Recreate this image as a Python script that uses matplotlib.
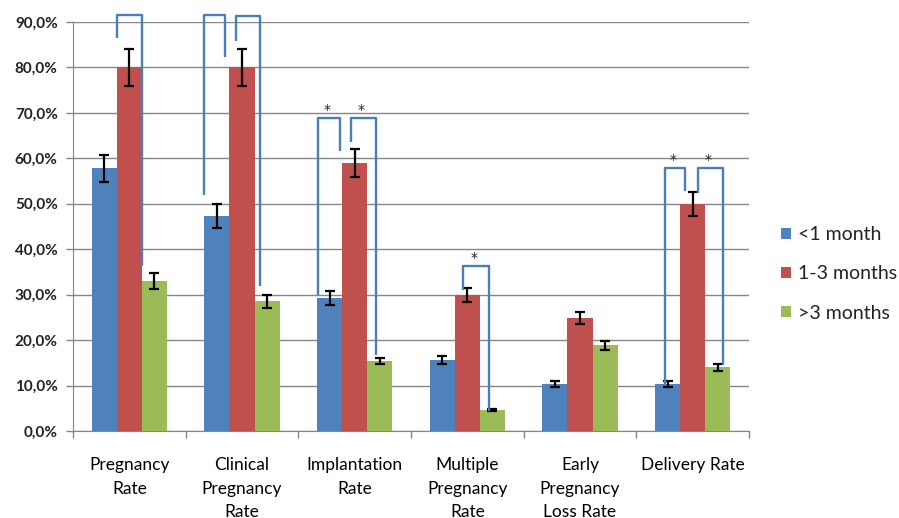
import matplotlib
matplotlib.use("Agg")
import matplotlib.pyplot as plt
from matplotlib.ticker import FuncFormatter, FixedLocator
import numpy as np

categories = ["Pregnancy\nRate", "Clinical\nPregnancy\nRate", "Implantation\nRate",
              "Multiple\nPregnancy\nRate", "Early\nPregnancy\nLoss Rate", "Delivery Rate"]
series_names = ["<1 month", "1-3 months", ">3 months"]
lt1 = [57.8, 47.3, 29.2, 15.6, 10.3, 10.3]
m13 = [80.0, 80.0, 58.9, 29.9, 24.8, 50.0]
gt3 = [33.0, 28.5, 15.4, 4.6, 18.9, 14.0]
lt1_err = [3.0, 2.6, 1.5, 0.9, 0.6, 0.6]
m13_err = [4.1, 4.1, 3.1, 1.5, 1.3, 2.6]
gt3_err = [1.7, 1.4, 0.75, 0.2, 1.0, 0.75]

# significance brackets: (category, left offset, right offset, left end, top, right end, star)
brackets = [
    (0, -0.106, 0.113, 86.4, 91.6, 36.4, False),
    (1, -0.336, -0.149, 51.9, 91.5, 82.2, False),
    (1, -0.057, 0.162, 85.8, 91.3, 31.9, False),
    (2, -0.325, -0.133, 29.9, 68.8, 61.6, True),
    (2, -0.035, 0.191, 63.7, 68.8, 16.7, True),
    (3, -0.036, 0.189, 31.0, 36.2, 4.5, True),
    (5, -0.247, -0.069, 10.3, 57.9, 52.8, True),
    (5, 0.049, 0.272, 52.4, 57.8, 14.5, True),
]

colors = ["#4F81BD", "#C0504D", "#9BBB59"]
bracket_color = "#4A7EBB"
grid_color = "#868686"

plt.rcParams['font.family'] = ['Lato', 'DejaVu Sans']

fig = plt.figure(figsize=(8.99, 5.18), dpi=100)
ax = fig.add_axes([73/899, 1-431/518, (749-73)/899, (431-22)/518])

x = np.arange(len(categories))
w = 0.222
vals = [lt1, m13, gt3]
errs = [lt1_err, m13_err, gt3_err]
for k in range(3):
    ax.bar(x + (k-1)*w, vals[k], width=w, color=colors[k], label=series_names[k],
           zorder=3, yerr=errs[k], error_kw=dict(ecolor='black', elinewidth=1.6,
                                                  capsize=3.6, capthick=1.6, zorder=4))

for (c, lo, ro, ly, ty, ry, star) in brackets:
    xl, xr = c + lo, c + ro
    ax.plot([xl, xl, xr, xr], [ly, ty, ty, ry], color=bracket_color, lw=1.7,
            zorder=5, clip_on=False, solid_joinstyle='round', solid_capstyle='butt')
    if star:
        ax.text((xl+xr)/2 - 0.02, ty + 0.3, "*", ha='center', va='bottom',
                fontsize=10, color='#222222', zorder=6, family='DejaVu Sans')

ax.set_xlim(-0.5, len(categories)-0.5)
ax.set_ylim(0, 90)
ax.yaxis.set_major_locator(FixedLocator(np.arange(0, 91, 10)))
ax.yaxis.set_major_formatter(FuncFormatter(lambda v, p: f"{v:.1f}%".replace('.', ',')))
ax.grid(axis='y', color=grid_color, lw=1.0, zorder=0)
ax.set_axisbelow(True)

ax.set_xticks(x)
ax.set_xticklabels(categories, fontsize=12.5, linespacing=1.55, va='top')
ax.xaxis.set_minor_locator(FixedLocator(np.arange(-0.5, len(categories), 1.0)))
ax.tick_params(axis='x', which='major', length=0, pad=19)
ax.tick_params(axis='x', which='minor', length=5, color=grid_color, width=1)
ax.tick_params(axis='y', length=5, color=grid_color, width=1, pad=6)
for lab in ax.get_yticklabels():
    lab.set_fontweight('bold')
    lab.set_fontsize(11)
    lab.set_color('#222222')

for s in ['top', 'right']:
    ax.spines[s].set_visible(False)
ax.spines['left'].set_color(grid_color)
ax.spines['bottom'].set_color(grid_color)

leg = fig.legend(loc='upper left', bbox_to_anchor=(781/899, 1-226/518), frameon=False,
                 fontsize=14, handlelength=0.5, handleheight=0.5, handletextpad=0.4,
                 labelspacing=1.15, borderaxespad=0, borderpad=0)
for t in leg.get_texts():
    t.set_color('#222222')

fig.savefig("out.png", dpi=100)
